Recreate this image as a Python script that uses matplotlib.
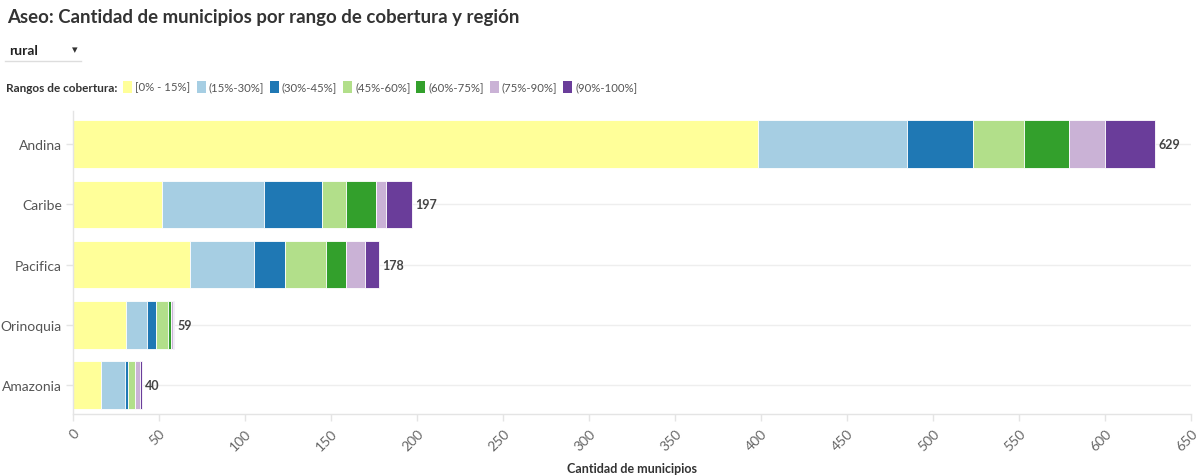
import matplotlib.pyplot as plt
from matplotlib.lines import Line2D
from matplotlib.patches import Rectangle
import numpy as np

plt.rcParams['font.family'] = ['Lato', 'DejaVu Sans']

# datos: municipios por region y rango de cobertura (zona rural)
regiones = ["Andina", "Caribe", "Pacifica", "Orinoquia", "Amazonia"]
rangos = ["[0% - 15%]", "(15%-30%]", "(30%-45%]", "(45%-60%]",
          "(60%-75%]", "(75%-90%]", "(90%-100%]"]
colores = ["#ffff99", "#a6cee3", "#1f78b4", "#b2df8a",
           "#33a02c", "#cab2d6", "#6a3d9a"]

r_0_15 = [398, 52, 68, 31, 16]
r_15_30 = [87, 59, 37, 12, 14]
r_30_45 = [38, 34, 18, 5, 2]
r_45_60 = [30, 14, 24, 7, 4]
r_60_75 = [26, 17, 12, 2, 0]
r_75_90 = [21, 6, 11, 1, 3]
r_90_100 = [29, 15, 8, 1, 1]

series = [r_0_15, r_15_30, r_30_45, r_45_60, r_60_75, r_75_90, r_90_100]
x_ticks = np.arange(0, 651, 50)

W, H = 1203, 477
fig = plt.figure(figsize=(W / 100, H / 100), dpi=100)


def fx(px):
    return px / W


def fy(py):
    return 1 - py / H


ax = fig.add_axes([fx(73), fy(415), fx(1191) - fx(73), fy(112) - fy(415)])

y = np.arange(len(regiones))
left = np.zeros(len(regiones))
for vals, col, lab in zip(series, colores, rangos):
    vals = np.array(vals)
    ax.barh(y, vals, left=left, height=0.79, color=col, edgecolor='white',
            linewidth=0.6, label=lab, zorder=2)
    left += vals

for yi, tot in zip(y, left):
    ax.text(tot + 2, yi, f"{int(tot)}", va='center', ha='left',
            fontsize=9, fontweight='bold', color='#444444')

ax.set_xlim(0, 650)
ax.set_ylim(4.48, -0.55)
ax.set_yticks(y)
ax.set_yticklabels(regiones, fontsize=10, color='#555555')
ax.set_xticks(x_ticks)
ax.set_xticklabels([str(t) for t in x_ticks], rotation=45, ha='right',
                   rotation_mode='anchor', fontsize=10, color='#666666')
ax.tick_params(axis='both', length=5, color='#e4e4e4', width=1)
ax.tick_params(axis='y', pad=3)
ax.tick_params(axis='x', pad=4)
ax.set_axisbelow(True)
ax.yaxis.grid(True, color='#eeeeee', linewidth=1, zorder=0)
for s in ['top', 'right']:
    ax.spines[s].set_visible(False)
for s in ['left', 'bottom']:
    ax.spines[s].set_color('#e4e4e4')
    ax.spines[s].set_linewidth(1)

fig.text(fx(632), fy(469), "Cantidad de municipios", fontsize=9,
         fontweight='bold', color='#333333', va='center', ha='center')

# titulo
fig.text(fx(7), fy(17), "Aseo: Cantidad de municipios por rango de cobertura y región",
         fontsize=13.4, fontweight='bold', color='#333333', va='center', ha='left')

# selector
fig.text(fx(9), fy(51), "rural", fontsize=10, fontweight='bold',
         color='#222222', va='center', ha='left')
fig.text(fx(75), fy(50), "▾", fontsize=8, color='#333333',
         va='center', ha='center', family='DejaVu Sans')
fig.add_artist(Line2D([fx(5), fx(81)], [fy(62), fy(62)], color='#dddddd',
                      linewidth=1))

# leyenda
fig.canvas.draw()
renderer = fig.canvas.get_renderer()
leg_y = fy(88)
t = fig.text(fx(6), leg_y, "Rangos de cobertura:", fontsize=8.5,
             fontweight='bold', color='#333333', va='center', ha='left')
xpos = t.get_window_extent(renderer).x1 + 6
for col, lab in zip(colores, rangos):
    fig.add_artist(Rectangle((fx(xpos), fy(94)), fx(9), fy(82) - fy(94),
                             facecolor=col, edgecolor='none',
                             transform=fig.transFigure))
    lt = fig.text(fx(xpos + 12), leg_y, lab, fontsize=8.2, color='#555555',
                  va='center', ha='left')
    xpos = lt.get_window_extent(renderer).x1 + 6

fig.savefig("out.png", dpi=100)
